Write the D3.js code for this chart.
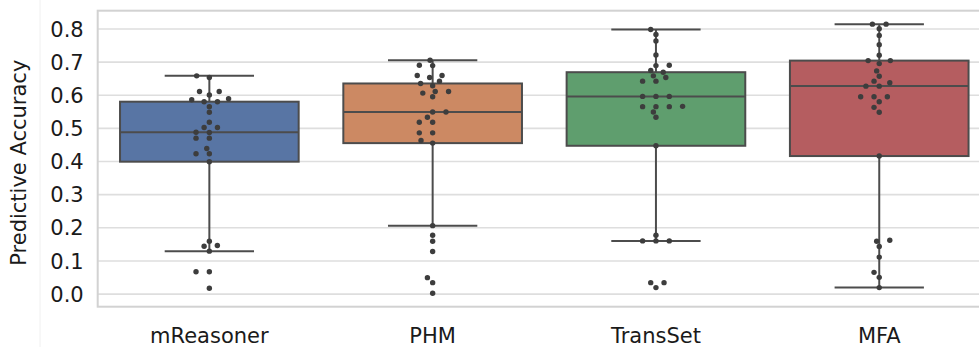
<!DOCTYPE html>
<html>
<head>
<meta charset="utf-8">
<script src="https://cdn.jsdelivr.net/npm/d3@7"></script>
<style>
  html, body { margin: 0; padding: 0; background: #fff; }
  svg { display: block; font-family: "DejaVu Sans", Verdana, sans-serif; }
</style>
</head>
<body>
<svg id="chart" width="979" height="347"></svg>
<script>
// ---- data ----
const categories = ["mReasoner", "PHM", "TransSet", "MFA"];
const mReasoner = [0.657, 0.652, 0.610, 0.610, 0.599, 0.588, 0.585, 0.579, 0.579, 0.564, 0.547, 0.517, 0.501, 0.501, 0.487, 0.486, 0.469, 0.469, 0.438, 0.422, 0.422, 0.398, 0.158, 0.145, 0.143, 0.128, 0.066, 0.066, 0.016];
const PHM = [0.704, 0.689, 0.688, 0.658, 0.658, 0.652, 0.641, 0.634, 0.627, 0.610, 0.610, 0.605, 0.594, 0.548, 0.548, 0.532, 0.517, 0.517, 0.485, 0.485, 0.462, 0.454, 0.205, 0.176, 0.158, 0.127, 0.048, 0.033, 0.001];
const TransSet = [0.797, 0.782, 0.762, 0.720, 0.689, 0.688, 0.673, 0.668, 0.657, 0.652, 0.641, 0.641, 0.595, 0.595, 0.595, 0.565, 0.564, 0.564, 0.564, 0.548, 0.532, 0.446, 0.176, 0.159, 0.159, 0.159, 0.033, 0.033, 0.018];
const MFA = [0.813, 0.813, 0.799, 0.779, 0.751, 0.719, 0.703, 0.703, 0.694, 0.672, 0.656, 0.641, 0.636, 0.626, 0.626, 0.594, 0.594, 0.594, 0.579, 0.562, 0.547, 0.415, 0.161, 0.158, 0.142, 0.110, 0.064, 0.049, 0.018];
const seriesValues = [mReasoner, PHM, TransSet, MFA];
const yTicks = [0.0, 0.1, 0.2, 0.3, 0.4, 0.5, 0.6, 0.7, 0.8];
const yLabel = "Predictive Accuracy";

// ---- styles ----
const boxColors = ["#5875a4", "#cc8963", "#5f9e6e", "#b55d60"];
const lineColor = "#4c4c4c";
const dotColor = "#3d3d3d";
const gridColor = "#dedede";
const frameColor = "#d2d2d2";

// ---- layout ----
const plot = { left: 97.7, top: 10.7, bottom: 306.7, band: 223.3 };
const svg = d3.select("#chart");

const all = seriesValues.flat();
const [mn, mx] = d3.extent(all);
const margin = (mx - mn) * 0.05;
const y = d3.scaleLinear().domain([mn - margin, mx + margin]).range([plot.bottom, plot.top]);
const x = d3.scaleBand().domain(categories)
  .range([plot.left, plot.left + plot.band * categories.length])
  .paddingInner(0).paddingOuter(0);

// faint page divider at left
svg.append("line").attr("x1", 40).attr("x2", 40).attr("y1", 0).attr("y2", 347)
  .attr("stroke", "#f0f0f0").attr("stroke-width", 1);

// grid lines
const yAxis = d3.axisLeft(y).tickValues(yTicks).tickFormat(d3.format(".1f"))
  .tickSize(-(x.range()[1] - x.range()[0])).tickPadding(14);
const gAxis = svg.append("g").attr("transform", `translate(${plot.left},0)`).call(yAxis);
gAxis.select(".domain").remove();
gAxis.selectAll(".tick line").attr("stroke", gridColor).attr("stroke-width", 1.6);
gAxis.selectAll(".tick text").attr("fill", "#1a1a1a").attr("font-size", 21)
  .attr("font-family", "DejaVu Sans, Verdana, sans-serif").attr("dy", "0.36em");

// frame
svg.append("rect").attr("x", plot.left).attr("y", plot.top)
  .attr("width", x.range()[1] - plot.left).attr("height", plot.bottom - plot.top)
  .attr("fill", "none").attr("stroke", frameColor).attr("stroke-width", 2);

// box stats
function stats(vals) {
  const s = vals.slice().sort(d3.ascending);
  const q1 = d3.quantile(s, 0.25), med = d3.quantile(s, 0.5), q3 = d3.quantile(s, 0.75);
  const iqr = q3 - q1;
  const lo = d3.min(s.filter(v => v >= q1 - 1.5 * iqr));
  const hi = d3.max(s.filter(v => v <= q3 + 1.5 * iqr));
  return { q1, med, q3, lo, hi };
}

const boxW = x.bandwidth() * 0.8;
const capW = boxW * 0.5;
const lw = 2;

categories.forEach((cat, i) => {
  const st = stats(seriesValues[i]);
  const cx = x(cat) + x.bandwidth() / 2;
  const g = svg.append("g");
  // whiskers
  g.append("line").attr("x1", cx).attr("x2", cx).attr("y1", y(st.q3)).attr("y2", y(st.hi))
    .attr("stroke", lineColor).attr("stroke-width", lw);
  g.append("line").attr("x1", cx).attr("x2", cx).attr("y1", y(st.q1)).attr("y2", y(st.lo))
    .attr("stroke", lineColor).attr("stroke-width", lw);
  // caps
  [st.hi, st.lo].forEach(v => {
    g.append("line").attr("x1", cx - capW / 2).attr("x2", cx + capW / 2)
      .attr("y1", y(v)).attr("y2", y(v))
      .attr("stroke", lineColor).attr("stroke-width", lw);
  });
  // box
  g.append("rect").attr("x", cx - boxW / 2).attr("y", y(st.q3))
    .attr("width", boxW).attr("height", y(st.q1) - y(st.q3))
    .attr("fill", boxColors[i]).attr("stroke", lineColor).attr("stroke-width", lw);
  // median
  g.append("line").attr("x1", cx - boxW / 2).attr("x2", cx + boxW / 2)
    .attr("y1", y(st.med)).attr("y2", y(st.med))
    .attr("stroke", lineColor).attr("stroke-width", lw);
});

// swarm layout (seaborn-style beeswarm)
function swarm(vals, cx) {
  const d = 12.7, k = 2.35;
  const pts = vals.map(v => ({ v, x: cx, py: y(v), ys: -y(v) * k }));
  pts.sort((a, b) => a.ys - b.ys);
  const placed = [];
  pts.forEach(p => {
    const neighbors = [];
    for (let j = placed.length - 1; j >= 0; j--) {
      if (p.ys - placed[j].ys < d) neighbors.unshift(placed[j]); else break;
    }
    let cands = [{ x: cx, o: 0, idx: 0 }];
    let leftFirst = true, idx = 1;
    neighbors.forEach(n => {
      const dy = p.ys - n.ys;
      const dx = Math.sqrt(Math.max(d * d - dy * dy, 0)) * 1.05;
      const cl = n.x - dx, cr = n.x + dx;
      const pair = leftFirst ? [cl, cr] : [cr, cl];
      pair.forEach(c => cands.push({ x: c, o: Math.abs(c - cx), idx: idx++ }));
      leftFirst = !leftFirst;
    });
    cands.sort((a, b) => (a.o - b.o) || (a.idx - b.idx));
    let chosen = cands[0].x;
    if (neighbors.length) {
      for (const c of cands) {
        const ok = neighbors.every(n => (n.x - c.x) ** 2 + (n.ys - p.ys) ** 2 >= d * d - 1e-9);
        if (ok) { chosen = c.x; break; }
      }
    }
    p.x = chosen;
    placed.push(p);
  });
  return pts;
}

categories.forEach((cat, i) => {
  const cx = x(cat) + x.bandwidth() / 2;
  const pts = swarm(seriesValues[i], cx);
  svg.append("g").selectAll("circle").data(pts).join("circle")
    .attr("cx", d => d.x).attr("cy", d => d.py).attr("r", 2.7)
    .attr("fill", dotColor);
});

// x labels
svg.append("g").selectAll("text").data(categories).join("text")
  .attr("x", d => x(d) + x.bandwidth() / 2).attr("y", 342.5)
  .attr("text-anchor", "middle").attr("font-size", 21).attr("fill", "#1a1a1a")
  .text(d => d);

// y label
svg.append("text")
  .attr("transform", `translate(26,${(plot.top + plot.bottom) / 2 + 4}) rotate(-90)`)
  .attr("text-anchor", "middle").attr("font-size", 21).attr("fill", "#1a1a1a")
  .text(yLabel);
</script>
</body>
</html>
